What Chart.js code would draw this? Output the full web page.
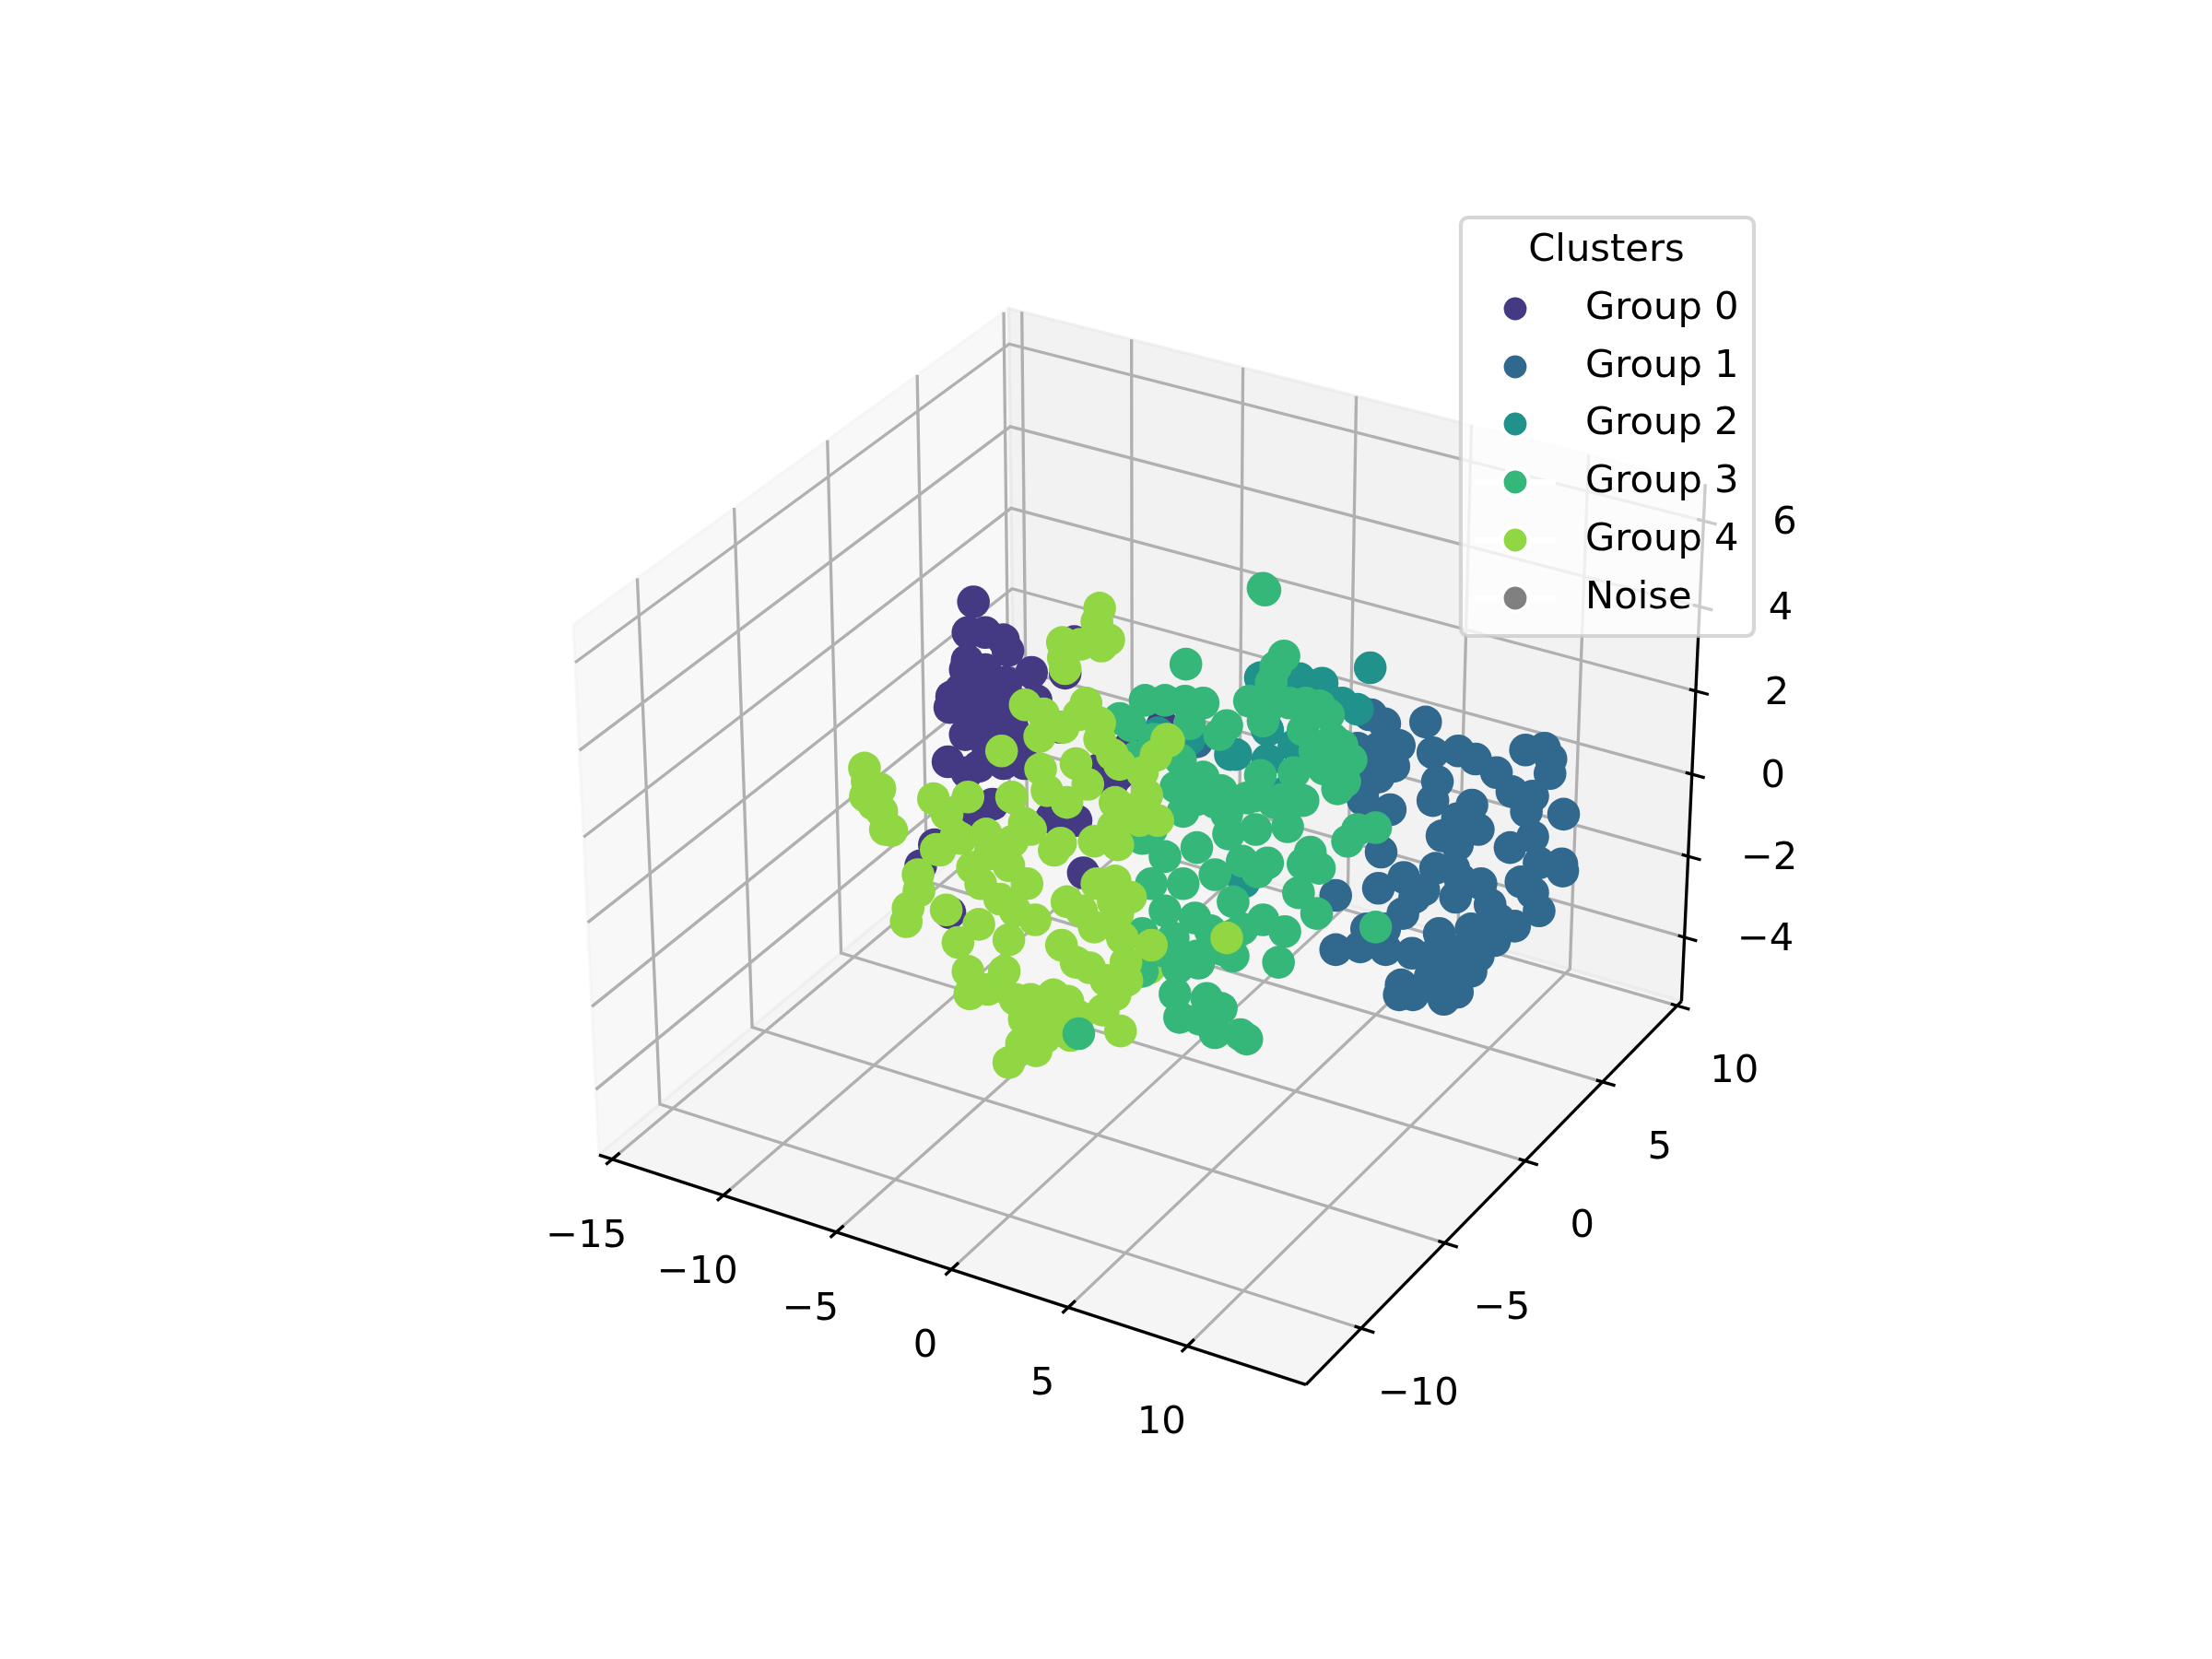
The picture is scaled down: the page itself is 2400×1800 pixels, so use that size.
<!DOCTYPE html>
<html>
<head>
<meta charset="utf-8">
<title>Clusters in 3D</title>
<style>html,body{margin:0;padding:0;background:#fff}canvas{display:block}</style>
<script src="https://cdn.jsdelivr.net/npm/chart.js@4"></script>
</head>
<body>
<canvas id="chart" width="2400" height="1800"></canvas>
<script>
// Axis ticks of the 3D box
const xTicks = [-15, -10, -5, 0, 5, 10];
const yTicks = [-10, -5, 0, 5, 10];
const zTicks = [-4, -2, 0, 2, 4, 6];
const xLim = [-15.6, 14.9];
const yLim = [-13.2, 10.3];
const zLim = [-5.6, 6.85];

// Cluster points in view-plane coordinates
const group0 = [[1054,648],[1048,682],[1067,682],[1087,690],[1092,702],[1047,713],[1045,723],[1067,723],[1118,726],[1030,753],[1028,765],[1063,753],[1090,737],[1123,757],[1052,790],[1077,780],[1097,787],[1026,825],[1060,830],[1087,827],[1047,837],[1075,872],[1057,880],[1011,917],[1155,727],[1165,692],[1140,887],[1213,840],[1193,833],[1110,827],[1150,787],[1262,785],[1207,848],[1150,883],[1167,890],[1227,807],[1028,992],[996,940],[1228,895],[1175,948],[1040,745],[1075,765],[1100,760],[1050,770],[1045,795],[1100,810],[1070,810]];
const group1 = [[1552,781],[1490,773],[1507,783],[1523,807],[1560,815],[1588,813],[1607,822],[1630,837],[1662,812],[1683,810],[1690,822],[1689,838],[1647,858],[1670,863],[1704,883],[1663,880],[1565,847],[1560,868],[1603,873],[1587,888],[1610,900],[1570,907],[1587,917],[1645,920],[1670,908],[1513,878],[1500,842],[1517,830],[1483,858],[1503,925],[1528,953],[1500,965],[1527,993],[1563,943],[1585,975],[1583,943],[1550,967],[1613,960],[1623,983],[1702,938],[1703,946],[1677,937],[1657,958],[1670,970],[1677,990],[1650,1007],[1628,1023],[1602,1010],[1633,1000],[1567,1015],[1537,1037],[1508,1033],[1480,1030],[1453,1033],[1487,1010],[1507,1010],[1563,1037],[1593,1033],[1602,1057],[1587,1080],[1572,1088],[1538,1083],[1523,1083],[1525,1072],[1557,1063],[1453,973],[1477,810],[1500,810],[1490,830],[1492,773],[1483,867],[1300,803],[1540,975],[1590,955],[1610,1040],[1580,1060]];
const group2 = [[1491,721],[1370,732],[1413,733],[1438,738],[1410,737],[1460,760],[1477,767],[1337,817],[1343,817],[1378,823],[1292,800],[1377,788],[1407,807],[1400,857],[1257,793],[1352,958],[1378,790]];
const group4Rear = [[1343,1015],[1248,1053]];
const group3 = [[1373,633],[1375,635],[1288,717],[1396,708],[1387,720],[1382,737],[1358,758],[1377,767],[1373,780],[1402,760],[1435,763],[1445,773],[1417,790],[1460,807],[1470,823],[1463,847],[1430,813],[1407,837],[1455,855],[1417,868],[1440,833],[1420,760],[1450,800],[1243,757],[1265,757],[1287,758],[1307,760],[1292,783],[1333,785],[1325,795],[1215,777],[1227,785],[1233,820],[1253,800],[1282,823],[1307,842],[1327,857],[1370,840],[1363,863],[1393,867],[1277,853],[1300,867],[1333,883],[1400,897],[1466,913],[1477,900],[1497,898],[1497,1008],[1432,993],[1412,970],[1425,925],[1417,938],[1435,943],[1378,937],[1367,947],[1390,1047],[1397,1013],[1373,1000],[1328,1033],[1300,1040],[1283,1045],[1276,1082],[1281,1108],[1311,1087],[1327,1098],[1320,1125],[1348,1127],[1355,1132],[1303,1110],[1240,1057],[1338,1018],[1250,900],[1285,880],[1320,870],[1355,865],[1385,870],[1265,930],[1300,920],[1335,905],[1365,900],[1250,960],[1285,960],[1320,950],[1350,935],[1265,990],[1298,998],[1340,980],[1240,1015],[1274,1020],[1315,1012],[1350,1010],[1265,1035],[1340,1040],[1240,910],[1302,1048],[1279,1053]];
const group4 = [[1193,655],[1190,670],[1203,690],[1195,697],[1152,693],[1153,710],[1155,722],[1172,695],[1111,762],[1131,772],[1178,760],[1193,782],[1170,773],[1127,797],[1153,787],[1193,800],[1207,817],[1215,828],[1240,837],[1128,833],[1135,857],[1167,827],[1180,850],[1157,870],[1210,870],[1245,862],[1257,890],[1230,878],[1085,813],[1010,866],[1048,864],[1025,883],[1035,907],[1013,922],[1096,864],[1110,893],[1068,905],[1267,800],[1255,818],[1269,802],[1213,873],[934,832],[937,847],[951,855],[935,863],[944,872],[953,880],[964,901],[957,900],[993,950],[994,968],[982,987],[980,1002],[1024,989],[1037,1025],[1048,1057],[1050,1082],[1088,1057],[1070,1077],[1093,1022],[1060,1005],[1122,1000],[1053,942],[1062,960],[1072,927],[1097,913],[1117,900],[1093,940],[1083,977],[1113,960],[1100,990],[1150,915],[1143,923],[1187,913],[1213,917],[1208,897],[1237,890],[1190,960],[1210,957],[1227,975],[1208,980],[1157,980],[1173,990],[1187,1008],[1213,993],[1218,1020],[1250,1028],[1151,1028],[1167,1047],[1182,1053],[1200,1067],[1222,1047],[1223,1067],[1210,1083],[1197,1100],[1216,1123],[1117,1088],[1142,1083],[1158,1090],[1100,1088],[1110,1110],[1140,1110],[1170,1107],[1107,1137],[1123,1145],[1093,1158],[1161,1128],[1133,1130],[1040,910],[1017,923],[1333,1020]];
const group3Front = [[1170,1126]];
const noise = [];

const legendNames = ['Group 0', 'Group 1', 'Group 2', 'Group 3', 'Group 4', 'Noise'];
const legendColors = ['#443983', '#31688e', '#21918c', '#35b779', '#90d743', '#808080'];

// Camera of the box: elevation 30 degrees, azimuth -60 degrees, distance 10
const ELEV = 30 * Math.PI / 180, AZIM = -60 * Math.PI / 180, DIST = 10;
const BOX = [1.1905, 1.1905, 0.8929];
const CENTER_X = 1248.7, CENTER_Y = 890.3, VIEW_SCALE = 7492;
const w = [Math.cos(ELEV) * Math.cos(AZIM), Math.cos(ELEV) * Math.sin(AZIM), Math.sin(ELEV)];
const uLen = Math.hypot(w[1], w[0]);
const u = [-w[1] / uLen, w[0] / uLen, 0];
const v = [w[1] * u[2] - w[2] * u[1], w[2] * u[0] - w[0] * u[2], w[0] * u[1] - w[1] * u[0]];
function project(x, y, z) {
  const d = [
    ((x - xLim[0]) / (xLim[1] - xLim[0]) - 0.5) * BOX[0],
    ((y - yLim[0]) / (yLim[1] - yLim[0]) - 0.5) * BOX[1],
    ((z - zLim[0]) / (zLim[1] - zLim[0]) - 0.5) * BOX[2]
  ];
  const dot = a => a[0] * d[0] + a[1] * d[1] + a[2] * d[2];
  const f = VIEW_SCALE / (DIST - dot(w));
  return { x: CENTER_X + dot(u) * f, y: CENTER_Y - dot(v) * f };
}

const [x0, x1] = xLim, [y0, y1] = yLim, [z0, z1] = zLim;
const xSpan = x1 - x0, ySpan = y1 - y0;
const GRID = '#b0b0b0', LINE_W = 3.33, FONT = '41.67px "DejaVu Sans"';

function polyline(corners, color) {
  return { type: 'scatter', showLine: true, data: corners.map(c => project(c[0], c[1], c[2])),
    borderColor: color, borderWidth: LINE_W, pointRadius: 0, fill: false, tension: 0,
    borderCapStyle: 'butt', borderJoinStyle: 'miter' };
}
function cloud(points, color) {
  return { type: 'scatter', data: points.map(p => ({ x: p[0], y: p[1] })),
    backgroundColor: color, borderWidth: 0, pointRadius: 17.8, pointHoverRadius: 17.8 };
}

const layers = [];
// Gridlines run across the floor and up the two rear panes
xTicks.forEach(t => layers.push(polyline([[t, y0, z0], [t, y1, z0], [t, y1, z1]], GRID)));
yTicks.forEach(t => layers.push(polyline([[x1, t, z0], [x0, t, z0], [x0, t, z1]], GRID)));
zTicks.forEach(t => layers.push(polyline([[x1, y1, t], [x0, y1, t], [x0, y0, t]], GRID)));
// Axis lines and tick marks
layers.push(polyline([[x0, y0, z0], [x1, y0, z0]], '#000'));
layers.push(polyline([[x1, y0, z0], [x1, y1, z0]], '#000'));
layers.push(polyline([[x1, y1, z0], [x1, y1, z1]], '#000'));
xTicks.forEach(t => layers.push(polyline([[t, y0 - 0.014 * ySpan, z0], [t, y0 + 0.017 * ySpan, z0]], '#000')));
yTicks.forEach(t => layers.push(polyline([[x1 - 0.009 * xSpan, t, z0], [x1 + 0.018 * xSpan, t, z0]], '#000')));
zTicks.forEach(t => layers.push(polyline([[x1 - 0.009 * xSpan, y1, t], [x1 + 0.018 * xSpan, y1, t]], '#000')));
// Clusters, rear to front
layers.push(cloud(group0, legendColors[0]));
layers.push(cloud(group1, legendColors[1]));
layers.push(cloud(group2, legendColors[2]));
layers.push(cloud(group4Rear, legendColors[4]));
layers.push(cloud(group3, legendColors[3]));
layers.push(cloud(group4, legendColors[4]));
layers.push(cloud(group3Front, legendColors[3]));
layers.push(cloud(noise, legendColors[5]));
// Chart.js paints the highest order first
layers.forEach((d, i) => { d.order = layers.length - i; });

const fmt = t => (t < 0 ? '\u2212' + (-t) : String(t));

const boxPlugin = {
  id: 'box3d',
  beforeDatasetsDraw(chart) {
    const { ctx, scales } = chart;
    const pane = (corners, color) => {
      ctx.beginPath();
      corners.forEach((c, i) => {
        const p = project(c[0], c[1], c[2]);
        const px = scales.x.getPixelForValue(p.x), py = scales.y.getPixelForValue(p.y);
        if (i) ctx.lineTo(px, py); else ctx.moveTo(px, py);
      });
      ctx.closePath();
      ctx.fillStyle = color;
      ctx.strokeStyle = color;
      ctx.lineWidth = LINE_W;
      ctx.fill();
      ctx.stroke();
    };
    ctx.save();
    pane([[x0, y0, z0], [x0, y1, z0], [x0, y1, z1], [x0, y0, z1]], 'rgba(242,242,242,0.5)');
    pane([[x0, y1, z0], [x1, y1, z0], [x1, y1, z1], [x0, y1, z1]], 'rgba(230,230,230,0.5)');
    pane([[x0, y0, z0], [x1, y0, z0], [x1, y1, z0], [x0, y1, z0]], 'rgba(236,236,236,0.5)');
    ctx.restore();
  },
  afterDatasetsDraw(chart) {
    const { ctx, scales } = chart;
    const sx = v => scales.x.getPixelForValue(v), sy = v => scales.y.getPixelForValue(v);
    ctx.save();
    // Tick labels
    ctx.font = FONT;
    ctx.fillStyle = '#000';
    ctx.textAlign = 'center';
    ctx.textBaseline = 'middle';
    xTicks.forEach(t => { const p = project(t, y0, z0); ctx.fillText(fmt(t), sx(p.x) - 28, sy(p.y) + 84); });
    yTicks.forEach(t => { const p = project(x1, t, z0); ctx.fillText(fmt(t), sx(p.x) + 62, sy(p.y) + 72); });
    zTicks.forEach(t => { const p = project(x1, y1, t); ctx.fillText(fmt(t), sx(p.x) + 88, sy(p.y) + 3); });

    // Legend frame
    ctx.beginPath();
    ctx.roundRect(1585, 236, 318, 454, 8);
    ctx.fillStyle = 'rgba(255,255,255,0.8)';
    ctx.fill();
    ctx.strokeStyle = 'rgba(204,204,204,0.8)';
    ctx.lineWidth = 4.17;
    ctx.stroke();
    // Legend title and entries
    ctx.fillStyle = '#000';
    ctx.fillText('Clusters', 1743, 272);
    const rowY = [335, 398, 460, 523, 586, 649];
    legendNames.forEach((name, i) => {
      ctx.beginPath();
      ctx.moveTo(1600, rowY[i]);
      ctx.lineTo(1688, rowY[i]);
      ctx.strokeStyle = '#fff';
      ctx.lineWidth = 6.25;
      ctx.stroke();
      ctx.beginPath();
      ctx.arc(1644, rowY[i], 14.5, 0, Math.PI * 2);
      ctx.fillStyle = legendColors[i];
      ctx.fill();
      ctx.strokeStyle = '#fff';
      ctx.lineWidth = 4.17;
      ctx.stroke();
      ctx.fillStyle = '#000';
      ctx.textAlign = 'left';
      ctx.fillText(name, 1720, rowY[i]);
    });
    ctx.restore();
  }
};

new Chart(document.getElementById('chart'), {
  type: 'scatter',
  data: { datasets: layers },
  plugins: [boxPlugin],
  options: {
    responsive: false,
    animation: false,
    devicePixelRatio: 1,
    layout: { padding: 0 },
    events: [],
    plugins: { legend: { display: false }, tooltip: { enabled: false } },
    scales: {
      x: { type: 'linear', display: false, min: 0, max: 2400 },
      y: { type: 'linear', display: false, min: 0, max: 1800, reverse: true }
    }
  }
});
</script>
</body>
</html>
